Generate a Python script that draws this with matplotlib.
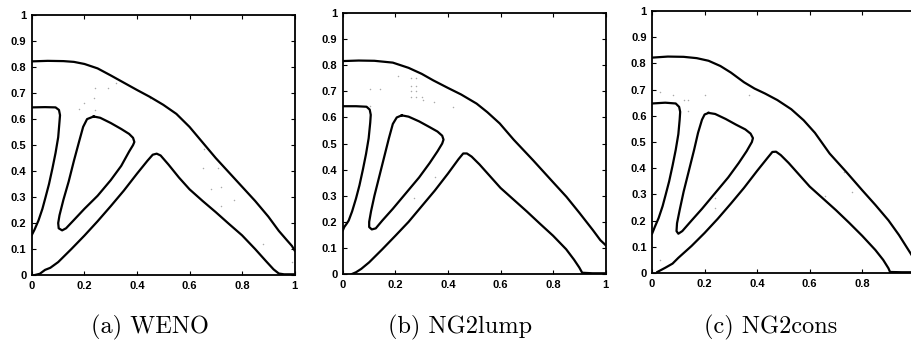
import numpy as np
import matplotlib
matplotlib.use("Agg")
from matplotlib import pyplot as plt

# contour polylines (x, y) for each scheme
weno_outer = [(0, 0.822), (0.06, 0.824), (0.12, 0.823), (0.16, 0.82), (0.2, 0.812), (0.25, 0.795),
              (0.3, 0.768), (0.35, 0.74), (0.4, 0.712), (0.45, 0.685), (0.5, 0.655), (0.55, 0.62),
              (0.6, 0.57), (0.65, 0.51), (0.7, 0.45), (0.75, 0.395), (0.8, 0.34), (0.85, 0.285),
              (0.9, 0.225), (0.94, 0.17), (0.97, 0.135), (0.99, 0.112), (1.0, 0.095)]
weno_left = [(0, 0.645), (0.05, 0.646), (0.09, 0.645), (0.103, 0.635), (0.107, 0.615), (0.105, 0.59),
             (0.1, 0.53), (0.09, 0.47), (0.078, 0.41), (0.065, 0.35), (0.052, 0.3), (0.04, 0.255),
             (0.025, 0.21), (0.01, 0.175), (0, 0.155)]
weno_tri = [(0.235, 0.61), (0.26, 0.605), (0.3, 0.585), (0.34, 0.562), (0.37, 0.543), (0.385, 0.528),
            (0.39, 0.512), (0.385, 0.5), (0.37, 0.475), (0.34, 0.42), (0.3, 0.365), (0.25, 0.305),
            (0.2, 0.255), (0.16, 0.212), (0.13, 0.18), (0.115, 0.172), (0.102, 0.18), (0.1, 0.2),
            (0.105, 0.23), (0.12, 0.29), (0.14, 0.36), (0.16, 0.44), (0.18, 0.515), (0.195, 0.57),
            (0.21, 0.6), (0.235, 0.61)]
weno_lower = [(0.01, 0.0), (0.03, 0.005), (0.05, 0.02), (0.07, 0.028), (0.1, 0.05), (0.15, 0.1),
              (0.2, 0.152), (0.25, 0.207), (0.3, 0.265), (0.35, 0.325), (0.4, 0.39), (0.44, 0.44),
              (0.46, 0.463), (0.475, 0.467), (0.49, 0.46), (0.52, 0.425), (0.56, 0.375), (0.6, 0.33),
              (0.65, 0.285), (0.7, 0.242), (0.75, 0.197), (0.8, 0.153), (0.85, 0.1), (0.89, 0.055),
              (0.92, 0.022), (0.94, 0.006), (0.96, 0.003), (1.0, 0.003)]
weno_dots = [(0.18, 0.64), (0.2, 0.66), (0.24, 0.72), (0.29, 0.72), (0.32, 0.74), (0.235, 0.68),
             (0.24, 0.635), (0.45, 0.68), (0.65, 0.41), (0.71, 0.41), (0.68, 0.33), (0.72, 0.34),
             (0.72, 0.265), (0.77, 0.29), (0.88, 0.12), (0.655, 0.485), (0.99, 0.05)]

lump_outer = [(0, 0.816), (0.06, 0.818), (0.12, 0.817), (0.19, 0.81), (0.25, 0.79), (0.3, 0.767),
              (0.344, 0.742), (0.4, 0.713), (0.45, 0.688), (0.509, 0.653), (0.55, 0.62), (0.597, 0.577),
              (0.65, 0.515), (0.724, 0.436), (0.8, 0.352), (0.851, 0.296), (0.9, 0.235), (0.952, 0.168),
              (0.98, 0.13), (1.0, 0.111)]
lump_left = [(0, 0.643), (0.05, 0.643), (0.09, 0.641), (0.102, 0.63), (0.106, 0.61), (0.104, 0.58),
             (0.098, 0.52), (0.088, 0.46), (0.076, 0.4), (0.063, 0.34), (0.05, 0.29), (0.035, 0.24),
             (0.022, 0.205), (0.015, 0.194), (0.005, 0.18), (0, 0.168)]
lump_tri = [(0.224, 0.608), (0.25, 0.603), (0.29, 0.585), (0.33, 0.563), (0.36, 0.546), (0.378, 0.53),
            (0.383, 0.515), (0.378, 0.5), (0.36, 0.47), (0.33, 0.425), (0.29, 0.37), (0.24, 0.31),
            (0.19, 0.25), (0.15, 0.205), (0.125, 0.175), (0.11, 0.171), (0.1, 0.18), (0.1, 0.2),
            (0.107, 0.24), (0.12, 0.3), (0.14, 0.38), (0.16, 0.46), (0.175, 0.52), (0.19, 0.575),
            (0.205, 0.6), (0.224, 0.608)]
lump_lower = [(0.034, 0.0), (0.05, 0.007), (0.07, 0.02), (0.1, 0.045), (0.15, 0.095), (0.2, 0.147),
              (0.25, 0.2), (0.3, 0.26), (0.35, 0.32), (0.4, 0.385), (0.44, 0.44), (0.458, 0.462),
              (0.472, 0.462), (0.49, 0.45), (0.52, 0.42), (0.56, 0.375), (0.6, 0.33), (0.65, 0.285),
              (0.7, 0.24), (0.75, 0.193), (0.8, 0.147), (0.85, 0.095), (0.88, 0.055), (0.9, 0.025),
              (0.911, 0.005), (0.95, 0.003), (1.0, 0.003)]
lump_dots = [(0.21, 0.76), (0.26, 0.75), (0.28, 0.75), (0.26, 0.72), (0.28, 0.72), (0.26, 0.7),
             (0.28, 0.7), (0.26, 0.68), (0.28, 0.68), (0.3, 0.68), (0.305, 0.665), (0.345, 0.66),
             (0.42, 0.64), (0.105, 0.71), (0.14, 0.71), (0.105, 0.645), (0.35, 0.37), (0.27, 0.29)]

cons_outer = [(0, 0.822), (0.06, 0.826), (0.12, 0.825), (0.17, 0.82), (0.215, 0.81), (0.26, 0.79),
              (0.3, 0.765), (0.35, 0.728), (0.39, 0.704), (0.43, 0.685), (0.477, 0.66), (0.53, 0.625),
              (0.577, 0.583), (0.62, 0.535), (0.676, 0.456), (0.74, 0.385), (0.8, 0.316), (0.85, 0.26),
              (0.9, 0.201), (0.94, 0.145), (0.969, 0.099), (1.0, 0.05)]
cons_left = [(0, 0.647), (0.05, 0.65), (0.09, 0.647), (0.103, 0.634), (0.107, 0.615), (0.105, 0.585),
             (0.1, 0.53), (0.09, 0.47), (0.078, 0.41), (0.065, 0.35), (0.052, 0.3), (0.04, 0.255),
             (0.025, 0.21), (0.01, 0.175), (0, 0.15)]
cons_tri = [(0.215, 0.611), (0.24, 0.607), (0.28, 0.588), (0.32, 0.566), (0.355, 0.548), (0.375, 0.532),
            (0.384, 0.515), (0.38, 0.5), (0.36, 0.465), (0.33, 0.42), (0.29, 0.365), (0.24, 0.305),
            (0.19, 0.245), (0.15, 0.2), (0.115, 0.16), (0.1, 0.15), (0.093, 0.16), (0.095, 0.19),
            (0.105, 0.24), (0.12, 0.31), (0.14, 0.39), (0.16, 0.47), (0.175, 0.535), (0.19, 0.585),
            (0.2, 0.605), (0.215, 0.611)]
cons_lower = [(0.02, 0.004), (0.05, 0.02), (0.078, 0.036), (0.1, 0.058), (0.15, 0.103), (0.2, 0.153),
              (0.25, 0.207), (0.3, 0.265), (0.35, 0.325), (0.4, 0.39), (0.44, 0.44), (0.458, 0.462),
              (0.472, 0.463), (0.49, 0.45), (0.52, 0.42), (0.56, 0.375), (0.6, 0.33), (0.65, 0.285),
              (0.7, 0.24), (0.75, 0.192), (0.8, 0.142), (0.85, 0.088), (0.88, 0.05), (0.9, 0.018),
              (0.906, 0.004), (0.95, 0.003), (1.0, 0.003)]
cons_dots = [(0.03, 0.69), (0.08, 0.68), (0.12, 0.66), (0.135, 0.66), (0.135, 0.62), (0.2, 0.68),
             (0.37, 0.68), (0.73, 0.385), (0.76, 0.31), (0.66, 0.295), (0.24, 0.285), (0.24, 0.25),
             (0.03, 0.05)]

captions = ["(a) WENO", "(b) NG2lump", "(c) NG2cons"]
x_ticklabels = ["0", "0.2", "0.4", "0.6", "0.8", "1"]
y_ticklabels = ["0", "0.1", "0.2", "0.3", "0.4", "0.5", "0.6", "0.7", "0.8", "0.9", "1"]
panels = [
    [weno_outer, weno_left, weno_tri, weno_lower, weno_dots],
    [lump_outer, lump_left, lump_tri, lump_lower, lump_dots],
    [cons_outer, cons_left, cons_tri, cons_lower, cons_dots],
]
# axes rectangles in figure fractions
rects = [(0.035, 0.198, 0.288, 0.758), (0.376, 0.201, 0.288, 0.761), (0.715, 0.204, 0.288, 0.764)]
caption_x = [0.164, 0.504, 0.845]

fig = plt.figure(figsize=(9.12, 3.43), dpi=100)
for i, (rect, curves, cap, cx) in enumerate(zip(rects, panels, captions, caption_x)):
    ax = fig.add_axes(rect)
    for c in curves[:4]:
        arr = np.array(c)
        ax.plot(arr[:, 0], arr[:, 1], color="black", lw=1.6, solid_joinstyle="round")
    d = np.array(curves[4])
    ax.scatter(d[:, 0], d[:, 1], s=1.2, color="#aaaaaa", linewidths=0)
    ax.set_xlim(0, 1)
    ax.set_ylim(0, 1)
    # the last panel runs off the page edge, so its "1" label is not shown
    xl = x_ticklabels if i < 2 else x_ticklabels[:-1] + [""]
    ax.set_xticks(np.arange(0, 1.01, 0.2))
    ax.set_xticklabels(xl)
    ax.set_yticks(np.arange(0, 1.01, 0.1))
    ax.set_yticklabels(y_ticklabels)
    ax.tick_params(direction="in", length=3, width=0.8, top=True, right=True, pad=4)
    for lab in ax.get_xticklabels() + ax.get_yticklabels():
        lab.set_fontsize(8)
        lab.set_fontweight("bold")
        lab.set_family("Liberation Sans")
    for sp in ax.spines.values():
        sp.set_linewidth(1.3)
    fig.text(cx, 0.044, cap, ha="center", va="center", fontsize=17.5, family="cmr10")

fig.savefig("out.png", dpi=100)
